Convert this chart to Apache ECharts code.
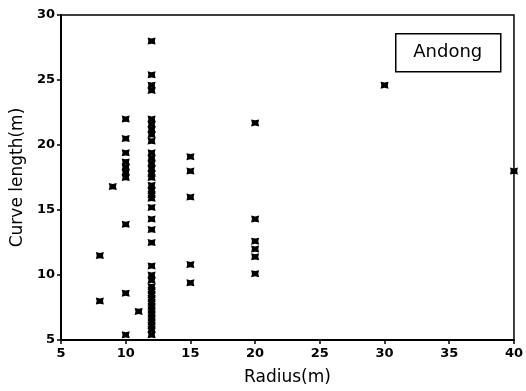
<!DOCTYPE html>
<html>
<head>
<meta charset="utf-8">
<script src="https://cdn.jsdelivr.net/npm/echarts@6/dist/echarts.min.js"></script>
<style>
  html, body { margin: 0; padding: 0; background: #fff; }
  #chart { width: 526px; height: 391px; }
</style>
</head>
<body>
<div id="chart"></div>
<script>
// radius (m) of each curve and its measured curve length (m)
const radius8 = [11.5, 8.0];
const radius9 = [16.8];
const radius10 = [22.0, 20.5, 19.4, 18.7, 18.3, 17.9, 17.5, 13.9, 8.6, 5.4];
const radius11 = [7.2];
const radius12 = [28.0, 25.4, 24.6, 24.2, 22.0, 21.6, 21.2, 20.8, 20.3, 19.4, 19.0, 18.6, 18.2,
  17.8, 17.5, 16.9, 16.5, 16.2, 15.9, 15.2, 14.3, 13.5, 12.5, 10.7, 10.0, 9.6, 9.1, 8.8, 8.5,
  8.2, 7.9, 7.6, 7.3, 7.0, 6.7, 6.4, 6.1, 5.8, 5.4];
const radius15 = [19.1, 18.0, 16.0, 10.8, 9.4];
const radius20 = [21.7, 14.3, 12.6, 12.0, 11.4, 10.1];
const radius30 = [24.6];
const radius40 = [18.0];

const groups = [[8, radius8], [9, radius9], [10, radius10], [11, radius11], [12, radius12],
  [15, radius15], [20, radius20], [30, radius30], [40, radius40]];

const points = [];
groups.forEach(([r, lengths]) => {
  lengths.forEach(len => points.push([r, len]));
});

const chart = echarts.init(document.getElementById('chart'));

const font = '"DejaVu Sans", "Noto Sans", sans-serif';

chart.setOption({
  animation: false,
  grid: {
    left: 61, right: 8, top: 15, bottom: 50,
    show: true, borderColor: '#000', borderWidth: 1.5
  },
  xAxis: {
    type: 'value', min: 5, max: 40, interval: 5,
    name: 'Radius(m)', nameLocation: 'middle', nameGap: 29,
    nameTextStyle: { fontFamily: font, fontSize: 17, color: '#000' },
    axisLine: { lineStyle: { color: '#000', width: 2 } },
    axisTick: { length: 4, lineStyle: { color: '#000', width: 1.5 } },
    axisLabel: { fontFamily: font, fontSize: 13, fontWeight: 'bold', color: '#000', margin: 7 },
    splitLine: { show: false }
  },
  yAxis: {
    type: 'value', min: 5, max: 30, interval: 5,
    name: 'Curve length(m)', nameLocation: 'middle', nameGap: 34,
    nameTextStyle: { fontFamily: font, fontSize: 17, color: '#000' },
    axisLine: { show: true, lineStyle: { color: '#000', width: 2 } },
    axisTick: { show: true, length: 4, lineStyle: { color: '#000', width: 1.5 } },
    axisLabel: { fontFamily: font, fontSize: 13, fontWeight: 'bold', color: '#000', margin: 6 },
    splitLine: { show: false }
  },
  graphic: [{
    type: 'group', left: 395, top: 33,
    children: [
      { type: 'rect', shape: { x: 0, y: 0, width: 105, height: 38 },
        style: { fill: '#fff', stroke: '#000', lineWidth: 1.5 } },
      { type: 'text', x: 52, y: 19,
        style: { text: 'Andong', fontFamily: font, fontSize: 18, fill: '#000',
          textAlign: 'center', textVerticalAlign: 'middle' } }
    ]
  }],
  series: [{
    name: 'Andong',
    type: 'scatter',
    symbol: 'path://M0,0 L5,1 L10,0 L9,4 L10,8 L5,7 L0,8 L1,4 Z',
    symbolSize: [8, 7],
    itemStyle: { color: '#000', opacity: 1 },
    data: points
  }]
});
</script>
</body>
</html>
